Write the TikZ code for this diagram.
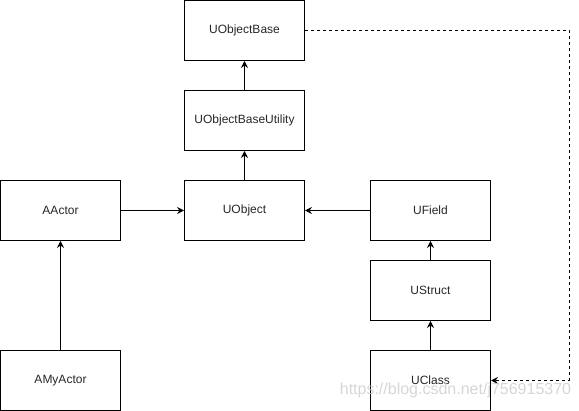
\documentclass[tikz,border=0pt]{standalone}
\usepackage{fontspec}
\setmainfont{Liberation Sans}
\usetikzlibrary{arrows.meta}
\begin{document}
\begin{tikzpicture}[x=1pt,y=-1pt,
  cls/.style={draw=black,line width=1pt,minimum width=120pt,minimum height=60pt,inner sep=0pt,font=\fontsize{12pt}{14pt}\selectfont,text=black!85},
  inh/.style={line width=1pt,-{Stealth[length=7pt,width=7pt,inset=2.5pt]}},
  dep/.style={line width=1pt,dash pattern=on 3pt off 3pt,-{Stealth[length=7pt,width=7pt,inset=2.5pt]}},
  wm/.style={text=gray!40,opacity=0.8,font=\fontsize{16pt}{18pt}\selectfont,inner sep=0pt}]
\useasboundingbox (0,0) rectangle (579,411);
\node[cls] (base) at (244.5,30.5) {UObjectBase};
\node[cls] (util) at (244.5,120.5) {UObjectBaseUtility};
\node[cls] (uobj) at (244.5,210.5) {UObject};
\node[cls] (actor) at (60.5,210.5) {AActor};
\node[cls] (field) at (430.5,210.5) {UField};
\node[cls] (struct) at (430.5,290.5) {UStruct};
\node[cls] (class) at (430.5,380.5) {UClass};
\node[cls] (myactor) at (60.5,380.5) {AMyActor};
\coordinate (c1) at (569,30.5);
\coordinate (c2) at (569,380.5);
\draw[inh] (util) -- (base);
\draw[inh] (uobj) -- (util);
\draw[inh] (actor) -- (uobj);
\draw[inh] (field) -- (uobj);
\draw[inh] (struct) -- (field);
\draw[inh] (class) -- (struct);
\draw[inh] (myactor) -- (actor);
\draw[dep] (base.east) -- (c1) -- (c2) -- (class.east);
\node[wm] (mark) at (455.5,390.5) {https://blog.csdn.net/j756915370};
\end{tikzpicture}
\end{document}
